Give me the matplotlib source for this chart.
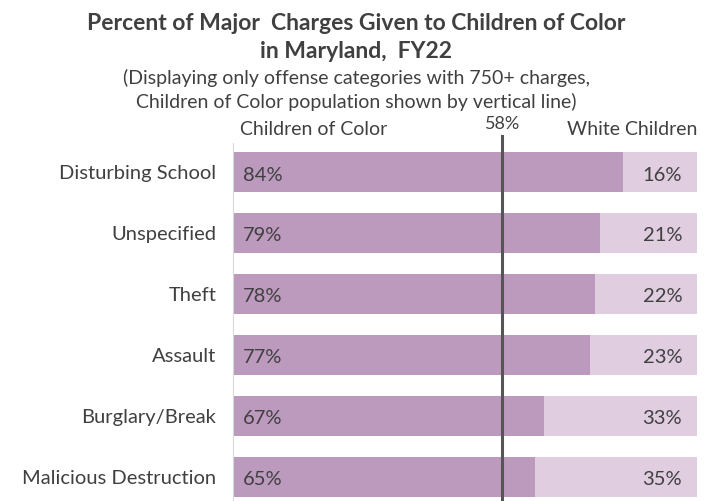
import numpy as np
import matplotlib.pyplot as plt

categories = ["Disturbing School", "Unspecified", "Theft", "Assault",
              "Burglary/Break", "Malicious Destruction"]
color_pct = [84, 79, 78, 77, 67, 65]
white_pct = [16, 21, 22, 23, 33, 35]
population_line = 58

plt.rcParams["font.family"] = ["Lato", "DejaVu Sans"]
txt = "#404040"
c_dark = "#BC9ABD"
c_light = "#E0CDE0"

fig = plt.figure(figsize=(7.13, 5.01), dpi=100)
ax = fig.add_axes([233 / 713, 0.0, 464 / 713, 0.715])

y = np.arange(len(categories))
ax.barh(y, color_pct, height=0.66, color=c_dark)
ax.barh(y, white_pct, left=color_pct, height=0.66, color=c_light)

for i in range(len(categories)):
    ax.text(2.2, y[i] + 0.05, f"{color_pct[i]}%", va="center", ha="left",
            fontsize=14.5, color=txt)
    ax.text(96.8, y[i] + 0.05, f"{white_pct[i]}%", va="center", ha="right",
            fontsize=14.5, color=txt)

ax.axvline(population_line, ymin=0.0, ymax=1.02, color="#555555", lw=2.2,
           clip_on=False)
ax.text(population_line, -0.66, f"{population_line}%", ha="center",
        va="bottom", fontsize=13, color=txt)
ax.text(1.5, -0.56, "Children of Color", ha="left", va="bottom",
        fontsize=14, color=txt)
ax.text(100, -0.56, "White Children", ha="right", va="bottom",
        fontsize=14, color=txt)

ax.set_xlim(0, 100)
ax.set_ylim(5.4, -0.48)
ax.set_yticks(y)
ax.set_yticklabels(categories, fontsize=14.5, color=txt)
ax.tick_params(axis="y", length=0, pad=12)
ax.set_xticks([])
for s in ["top", "right", "bottom"]:
    ax.spines[s].set_visible(False)
ax.spines["left"].set_color("#d9d9d9")

fig.text(0.5, 0.953, "Percent of Major  Charges Given to Children of Color",
         ha="center", va="center", fontsize=16.5, fontweight="bold", color=txt)
fig.text(0.5, 0.897, "in Maryland,  FY22", ha="center", va="center",
         fontsize=16.5, fontweight="bold", color=txt)
fig.text(0.5, 0.845, "(Displaying only offense categories with 750+ charges,",
         ha="center", va="center", fontsize=14, color=txt)
fig.text(0.5, 0.797, "Children of Color population shown by vertical line)",
         ha="center", va="center", fontsize=14, color=txt)

fig.savefig("out.png", dpi=100)
